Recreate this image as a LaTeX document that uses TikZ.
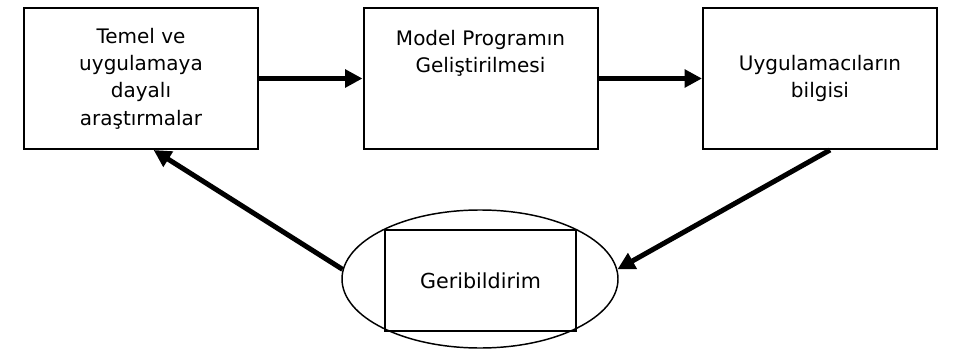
\documentclass[tikz,border=0pt]{standalone}
\usepackage{fontspec}
\setmainfont{DejaVu Sans}
\usepackage{tikz}
\usetikzlibrary{arrows.meta, shapes.geometric}

\begin{document}
\begin{tikzpicture}[x=0.75pt, y=-0.75pt,
        blk/.style={rectangle, draw, line width=1.5pt, minimum width=175.5pt,
                    minimum height=105.75pt, align=center,
                    font=\fontsize{15}{20.5}\selectfont},
        arr/.style={-{Triangle[length=13pt, width=13pt]}, line width=3.75pt},
        oval/.style={ellipse, draw, line width=1.1pt, minimum width=207pt,
                     minimum height=103.5pt},
        fb/.style={rectangle, draw, line width=1.5pt, minimum width=143.25pt,
                   minimum height=75.75pt, font=\fontsize{15.5}{20}\selectfont},
      ]
        \useasboundingbox (0,0) rectangle (963,349);

        \node[blk] (ara) at (141,78.5)
          {Temel ve\\uygulamaya\\dayalı\\araştırmalar};
        \node[blk] (prog) at (480.5,78.5)
          {Model Programın\\Geliştirilmesi\\ \\ };
        \node[blk] (bilgi) at (820,78.5)
          {Uygulamacıların\\bilgisi};

        \node[oval] (ell) at (480,279) {};
        \node[fb] (geri) at (480.5,280.5) {Geribildirim};

        \draw[arr] (ara)  -- (prog);
        \draw[arr] (prog) -- (bilgi);

        % feedback loop
        \draw[arr] (bilgi.-82) -- (ell.4.5);
        \draw[arr] (ell.176)   -- (ara.-80.5);
      \end{tikzpicture}
\end{document}
